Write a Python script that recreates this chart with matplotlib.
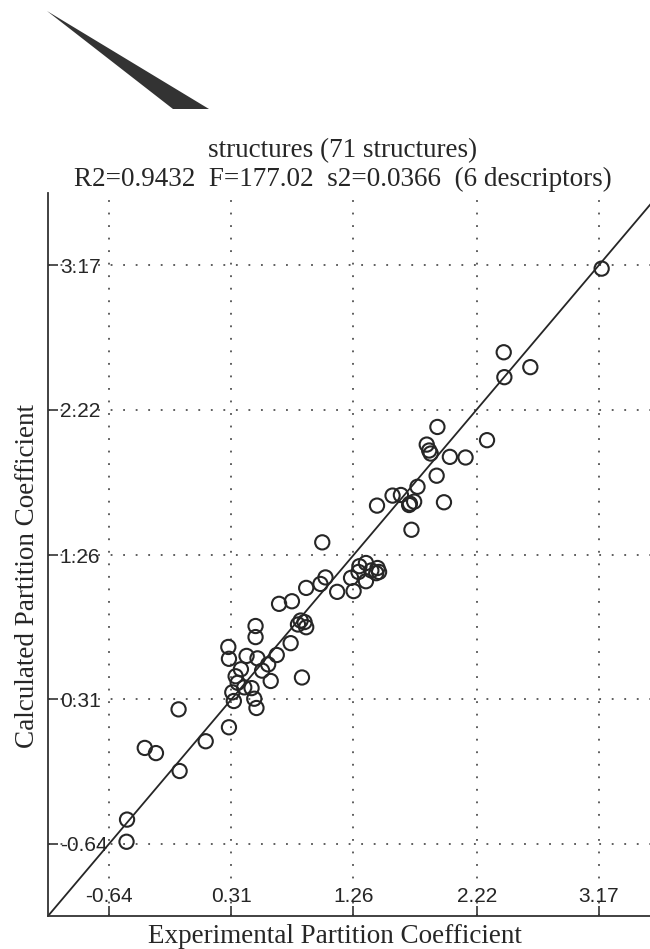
import numpy as np
import matplotlib.pyplot as plt
from matplotlib.patches import Polygon

# experimental vs calculated partition coefficients
exp_vals = [-0.505, -0.501, -0.363, -0.276, -0.100, -0.092, 0.111, 0.292, 0.318, 0.287,
            0.292, 0.344, 0.385, 0.429, 0.514, 0.411, 0.468, 0.489, 0.506, 0.617,
            0.597, 0.664, 0.772, 0.860, 0.499, 0.499, 0.829, 0.893, 0.850, 0.682,
            0.782, 0.893, 1.004, 1.043, 1.018, 1.134, 1.242, 1.262, 1.307, 1.358,
            1.448, 1.438, 1.358, 1.444, 1.565, 1.630, 1.694, 1.733, 1.712, 1.965,
            1.759, 1.908, 1.862, 1.831, 1.914, 2.011, 2.133, 2.300, 2.435, 2.430,
            2.637, 3.192, 0.360, 0.550, 1.400, 1.300, 0.880, 0.330, 1.850, 1.700, 1.460]
calc_vals = [-0.627, -0.481, -0.009, -0.043, 0.245, -0.161, 0.035, 0.127, 0.357, 0.656,
             0.578, 0.463, 0.509, 0.597, 0.581, 0.390, 0.385, 0.315, 0.254, 0.432,
             0.541, 0.603, 0.681, 0.455, 0.794, 0.721, 0.804, 0.786, 0.830, 0.940,
             0.957, 1.045, 1.071, 1.114, 1.345, 1.019, 1.111, 1.024, 1.188, 1.089,
             1.176, 1.142, 1.209, 1.587, 1.653, 1.657, 1.591, 1.613, 1.428, 1.609,
             1.711, 1.784, 1.930, 1.989, 2.105, 1.908, 1.904, 2.018, 2.433, 2.597,
             2.499, 3.148, 0.420, 0.500, 1.160, 1.150, 0.820, 0.300, 1.950, 1.600, 1.150]

tick_vals = [-0.64, 0.31, 1.26, 2.22, 3.17]
tick_labels = ['-0.64', '0.31', '1.26', '2.22', '3.17']
lims = (-1.116, 3.646)

title1 = 'structures (71 structures)'
title2 = 'R2=0.9432  F=177.02  s2=0.0366  (6 descriptors)'

ink = '#262626'
serif = ['Liberation Serif', 'DejaVu Serif']
sans = ['Liberation Sans', 'DejaVu Sans']

fig = plt.figure(figsize=(6.5, 9.49), dpi=100)
W, H = 650, 949

# scanned page artefact: black wedge at the top left
fig.patches.append(Polygon([(47 / W, 1 - 11 / H), (209 / W, 1 - 109 / H), (173 / W, 1 - 109 / H)],
                           closed=True, transform=fig.transFigure, facecolor='#333333',
                           edgecolor='none'))

ax = fig.add_axes([48 / W, 33 / H, 612 / W, 723 / H])
ax.set_xlim(lims)
ax.set_ylim(lims)

ax.grid(True, linestyle=(0, (1.2, 7)), color='#333333', linewidth=1.1, zorder=0)
ax.axline((0, 0), slope=1, color=ink, linewidth=1.3, zorder=2)
ax.scatter(exp_vals, calc_vals, s=105, facecolors='none', edgecolors=ink, linewidths=1.5, zorder=3)

for side in ['top', 'right']:
    ax.spines[side].set_visible(False)
for side in ['left', 'bottom']:
    ax.spines[side].set_linewidth(1.3)
    ax.spines[side].set_color('#333333')

ax.set_xticks(tick_vals, labels=tick_labels)
ax.set_yticks(tick_vals, labels=tick_labels)
ax.tick_params(axis='both', direction='in', length=7, width=1.2, color='#333333',
               labelsize=15, labelcolor=ink)
ax.tick_params(axis='y', pad=-8.5)
ax.tick_params(axis='x', pad=-7.5)
for lab in ax.get_yticklabels():
    lab.set_horizontalalignment('left')
    lab.set_family(sans)
for lab in ax.get_xticklabels():
    lab.set_verticalalignment('bottom')
    lab.set_family(sans)

ax.set_xlabel('Experimental Partition Coefficient', fontsize=19.5, family=serif, color=ink)
ax.xaxis.label.set_va('baseline')
ax.xaxis.set_label_coords((335 - 48) / 612, (916 - 943) / 723)
ax.set_ylabel('Calculated Partition Coefficient', fontsize=19.5, family=serif, color=ink)
ax.yaxis.label.set_va('center')
ax.yaxis.set_label_coords((28 - 48) / 612, (916 - 576) / 723)

fig.text(343 / W, 1 - 157 / H, title1, ha='center', va='baseline', fontsize=19.5,
         family=serif, color=ink)
fig.text(343 / W, 1 - 186 / H, title2, ha='center', va='baseline', fontsize=19.5,
         family=serif, color=ink)

fig.savefig('out.png', dpi=100)
